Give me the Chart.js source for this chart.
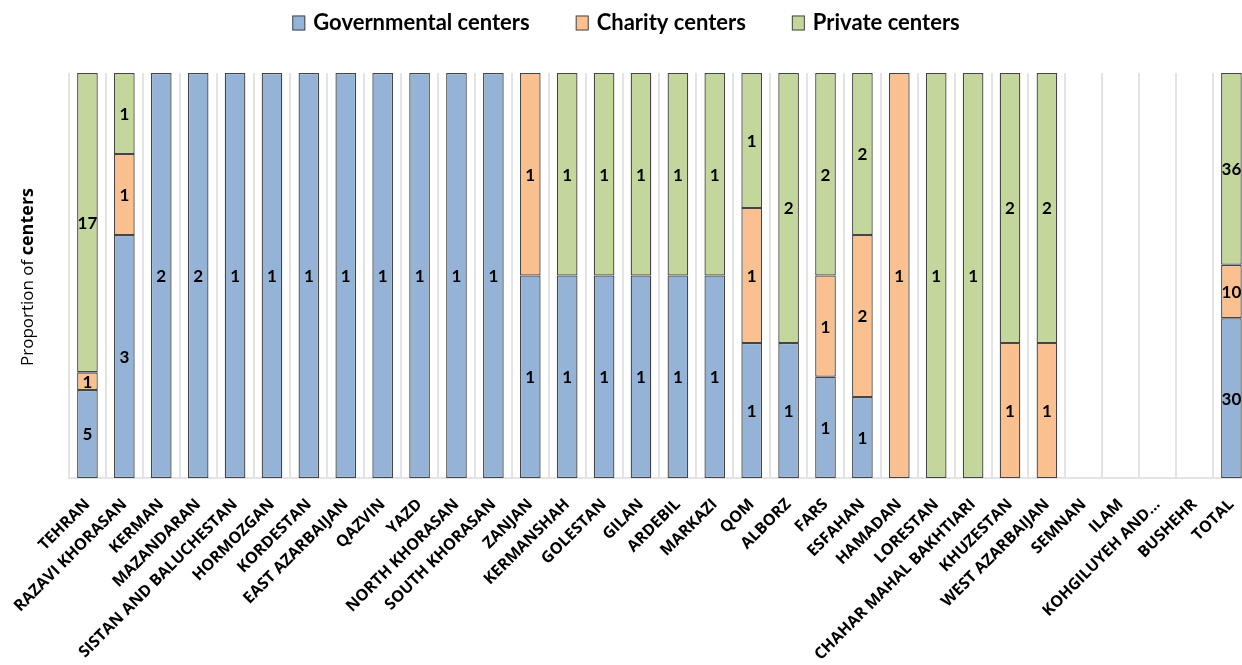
<!DOCTYPE html>
<html>
<head>
<meta charset="utf-8">
<script src="https://cdn.jsdelivr.net/npm/chart.js@4/dist/chart.umd.min.js"></script>
<style>
html,body{margin:0;padding:0;overflow:hidden;background:#fff;}
#wrap{position:absolute;left:0;top:0;width:1262px;height:665px;}
</style>
</head>
<body>
<div id="wrap"><canvas id="c"></canvas></div>
<script>
const categories = ["TEHRAN","RAZAVI KHORASAN","KERMAN","MAZANDARAN","SISTAN AND BALUCHESTAN","HORMOZGAN","KORDESTAN","EAST AZARBAIJAN","QAZVIN","YAZD","NORTH KHORASAN","SOUTH KHORASAN","ZANJAN","KERMANSHAH","GOLESTAN","GILAN","ARDEBIL","MARKAZI","QOM","ALBORZ","FARS","ESFAHAN","HAMADAN","LORESTAN","CHAHAR MAHAL BAKHTIARI","KHUZESTAN","WEST AZARBAIJAN","SEMNAN","ILAM","KOHGILUYEH AND...","BUSHEHR","TOTAL"];
const governmental = [5,3,2,2,1,1,1,1,1,1,1,1,1,1,1,1,1,1,1,1,1,1,0,0,0,0,0,0,0,0,0,30];
const charity      = [1,1,0,0,0,0,0,0,0,0,0,0,1,0,0,0,0,0,1,0,1,2,1,0,0,1,1,0,0,0,0,10];
const privateC     = [17,1,0,0,0,0,0,0,0,0,0,0,0,1,1,1,1,1,1,2,2,2,0,1,1,2,2,0,0,0,0,36];
const seriesNames  = ["Governmental centers","Charity centers","Private centers"];
const seriesColors = ["#95B3D7","#FAC090","#C3D69B"];
const seriesCounts = [governmental, charity, privateC];

const totals = categories.map((_, i) => governmental[i] + charity[i] + privateC[i]);
const toShare = arr => arr.map((v, i) => (v > 0 && totals[i] > 0) ? v / totals[i] : null);

const countLabels = {
  id: "countLabels",
  afterDatasetsDraw(chart) {
    const ctx = chart.ctx;
    ctx.save();
    ctx.font = "bold 17px Lato";
    ctx.fillStyle = "#000";
    ctx.textAlign = "center";
    ctx.textBaseline = "middle";
    chart.data.datasets.forEach((ds, di) => {
      const meta = chart.getDatasetMeta(di);
      meta.data.forEach((el, i) => {
        const c = ds.counts[i];
        if (!c) return;
        ctx.fillText(String(c), el.x, (el.y + el.base) / 2 + 1);
      });
    });
    ctx.restore();
  }
};

const yTitle = {
  id: "yTitle",
  afterDraw(chart) {
    const ctx = chart.ctx;
    const t1 = "Proportion of ", t2 = "centers";
    ctx.save();
    ctx.font = "17px 'Open Sans'";
    const w1 = ctx.measureText(t1).width;
    ctx.font = "bold 18px 'Open Sans'";
    const w2 = ctx.measureText(t2).width;
    const W = w1 + w2;
    ctx.translate(28, 277);
    ctx.rotate(-Math.PI / 2);
    ctx.fillStyle = "#000";
    ctx.textBaseline = "middle";
    ctx.textAlign = "left";
    ctx.font = "17px 'Open Sans'";
    ctx.fillText(t1, -W / 2, 0);
    ctx.font = "bold 18px 'Open Sans'";
    ctx.fillText(t2, -W / 2 + w1, 0);
    ctx.restore();
  }
};

const topLegend = {
  id: "topLegend",
  afterDraw(chart) {
    const ctx = chart.ctx;
    const font = "bold 22px Lato";
    const box = 13, gapBoxText = 8, gapItems = 46, cy = 23, centerX = 626;
    ctx.save();
    ctx.font = font;
    const widths = seriesNames.map(n => ctx.measureText(n).width);
    const total = widths.reduce((s, w) => s + box + gapBoxText + w, 0) + gapItems * (seriesNames.length - 1);
    let x = centerX - total / 2;
    seriesNames.forEach((n, i) => {
      ctx.fillStyle = seriesColors[i];
      ctx.fillRect(x, cy - box / 2 - 1, box, box + 2);
      ctx.strokeStyle = "#4a4a4a";
      ctx.lineWidth = 1;
      ctx.strokeRect(x + 0.5, cy - box / 2 - 0.5, box - 1, box + 1);
      x += box + gapBoxText;
      ctx.fillStyle = "#000";
      ctx.textAlign = "left";
      ctx.textBaseline = "middle";
      ctx.fillText(n, x, cy);
      x += widths[i] + gapItems;
    });
    ctx.restore();
  }
};

new Chart(document.getElementById("c"), {
  type: "bar",
  data: {
    labels: categories,
    datasets: seriesNames.map((name, k) => ({
      label: name,
      counts: seriesCounts[k],
      data: toShare(seriesCounts[k]),
      backgroundColor: seriesColors[k],
      borderColor: "#454545",
      borderWidth: 1.3,
      borderSkipped: false,
      categoryPercentage: 1,
      barPercentage: 0.56
    }))
  },
  options: {
    responsive: true,
    maintainAspectRatio: false,
    animation: false,
    layout: {padding: {top: 73, right: 0, bottom: 0, left: 0}},
    plugins: {
      legend: {display: false},
      tooltip: {enabled: false}
    },
    scales: {
      x: {
        stacked: true,
        grid: {display: true, color: "#e3e3e3", lineWidth: 2, drawTicks: false, offset: true},
        border: {display: true, color: "#e3e3e3", width: 2},
        ticks: {
          autoSkip: false,
          maxRotation: 45,
          minRotation: 45,
          padding: 17,
          labelOffset: 0,
          color: "#000",
          font: {family: "'Open Sans'", weight: "bold", size: 16}
        },
        afterFit(scale) { scale.height = 187; }
      },
      y: {
        stacked: true,
        min: 0,
        max: 1,
        grid: {display: false},
        border: {display: false},
        ticks: {display: false},
        afterFit(scale) { scale.width = 69; }
      }
    }
  },
  plugins: [countLabels, yTitle, topLegend]
});
</script>
</body>
</html>
